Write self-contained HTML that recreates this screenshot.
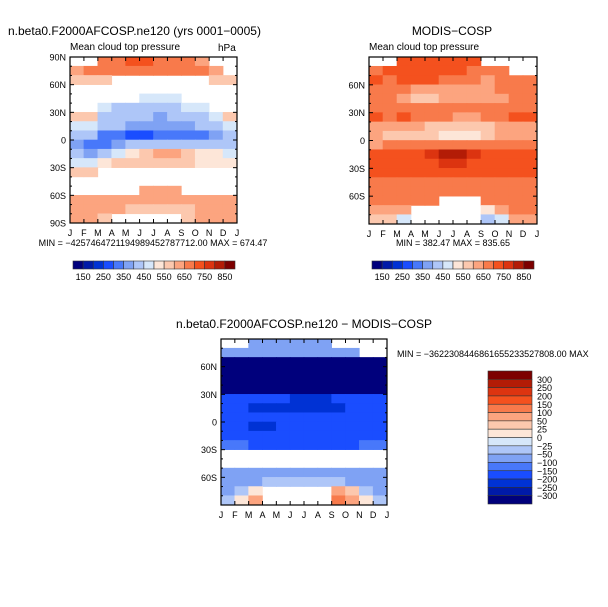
<!DOCTYPE html>
<html><head><meta charset="utf-8">
<style>
html,body{margin:0;padding:0;background:#fff;}
svg{display:block;font-family:"Liberation Sans","DejaVu Sans",sans-serif;}
</style></head>
<body>
<svg id="s" width="608" height="607" viewBox="0 0 608 607">
<rect width="608" height="607" fill="#fff"/>
</svg>
<script>
const months = ['J','F','M','A','M','J','J','A','S','O','N','D','J'];
const latLabelsFull = ['90N','60N','30N','0','30S','60S','90S'];
const latLabelsInner = ['','60N','30N','0','30S','60S',''];
const absLevels = [150,200,250,300,350,400,450,500,550,600,650,700,750,800,850];
const absLabels = ['150','250','350','450','550','650','750','850'];
const diffLevels = [-300,-250,-200,-150,-100,-50,-25,0,25,50,100,150,200,250,300];
const diffLabels = ['300','250','200','150','100','50','25','0','\u221225','\u221250','\u2212100','\u2212150','\u2212200','\u2212250','\u2212300'];
const colors = ['#00007c','#001aa8','#0032d4','#1a4dff','#4878fa','#7fa2f4','#aec6f8','#d6e7fa','#fde6d8','#fcc8ae','#fca47f','#f87a4b','#f4511e','#dc3410','#b31c06','#7d0000'];
const n = null;
const modelVals = [
[n,n,650,650,700,700,650,650,650,600,n,n],
[600,650,650,650,650,650,650,650,650,650,600,n],
[580,580,580,n,n,n,n,n,n,n,580,580],
[n,n,n,n,n,n,n,n,n,n,n,n],
[n,n,n,n,n,480,480,480,n,n,n,n],
[n,n,480,430,430,430,430,430,480,480,n,n],
[580,580,430,430,430,400,380,400,430,430,480,580],
[480,480,430,400,380,380,380,380,380,400,430,480],
[430,400,330,300,280,280,300,300,300,330,380,430],
[380,330,330,380,430,430,430,430,430,430,430,430],
[430,380,430,480,530,580,600,620,580,530,530,480],
[480,480,530,580,580,580,580,580,580,530,530,530],
[580,580,n,n,n,n,n,n,n,n,n,n],
[n,n,n,n,n,n,n,n,n,n,n,n],
[n,n,n,n,n,620,620,620,n,n,n,n],
[630,630,630,620,620,620,620,620,620,630,630,630],
[600,600,620,630,580,580,580,580,580,620,620,620],
[600,600,560,n,n,n,n,n,560,600,600,600]];
const obsVals = [
[n,n,700,700,700,700,700,700,n,n,n,n],
[650,700,700,700,700,700,700,650,650,650,n,n],
[700,650,700,720,720,680,650,650,620,650,650,650],
[650,650,650,620,620,620,600,600,620,650,650,650],
[650,650,600,570,570,600,600,600,600,620,650,650],
[650,650,650,650,650,650,650,650,650,650,650,650],
[700,680,700,650,650,650,620,620,650,680,700,700],
[620,620,620,600,580,580,580,580,580,620,620,620],
[600,580,580,570,550,540,540,540,560,600,600,600],
[620,650,650,650,650,650,650,650,650,650,650,650],
[700,700,700,720,760,800,800,780,720,700,700,700],
[720,720,720,720,740,760,760,740,720,720,720,720],
[720,720,720,720,720,720,720,720,720,720,720,720],
[680,680,680,680,680,680,680,680,680,680,680,680],
[680,680,680,680,680,680,680,680,680,680,680,680],
[650,650,650,650,650,n,n,n,650,650,650,650],
[620,600,600,n,n,n,n,n,500,600,650,650],
[580,550,450,n,n,n,n,n,420,450,600,600]];
const diffVals = [
[n,n,-60,-60,-80,-80,-80,-60,n,n,n,n],
[-80,-80,-80,-80,-80,-80,-80,-80,-80,-80,n,n],
[-350,-350,-350,-350,-350,-350,-350,-350,-350,-350,-350,-350],
[-350,-350,-350,-350,-350,-350,-350,-350,-350,-350,-350,-350],
[-350,-350,-350,-350,-350,-350,-350,-350,-350,-350,-350,-350],
[-350,-350,-350,-350,-350,-350,-350,-350,-350,-350,-350,-350],
[-170,-170,-170,-170,-170,-220,-220,-220,-170,-170,-170,-170],
[-170,-170,-220,-220,-220,-220,-220,-220,-220,-170,-170,-170],
[-170,-170,-170,-170,-170,-170,-170,-170,-170,-170,-170,-170],
[-170,-170,-220,-220,-170,-170,-170,-170,-170,-170,-170,-170],
[-170,-170,-170,-170,-170,-170,-170,-170,-170,-170,-170,-170],
[-120,-120,-170,-170,-170,-170,-170,-170,-170,-170,-120,-120],
[n,n,n,n,n,n,n,n,n,n,n,n],
[n,n,n,n,n,n,n,n,n,n,n,n],
[-70,-70,-70,-70,-70,-70,-70,-70,-70,-70,-70,-70],
[-70,-70,-70,-30,-30,-30,-30,-30,-30,-70,-70,-70],
[-70,-30,10,n,n,n,n,n,60,30,-30,-70],
[-30,10,60,n,n,n,n,n,120,60,10,-30]];

const S = document.getElementById('s');
const NS = 'http://www.w3.org/2000/svg';
function mk(tag, attrs, parent){const e=document.createElementNS(NS,tag);for(const k in attrs)e.setAttribute(k,attrs[k]);(parent||S).appendChild(e);return e;}
function txt(str,x,y,size,anchor,parent){const t=mk('text',{x:x,y:y,'font-size':size,'text-anchor':anchor||'start',fill:'#000'},parent);t.textContent=str;return t;}
function colorFor(v,levels){let i=0;while(i<levels.length&&v>=levels[i])i++;return colors[i];}

function panel(name,x0,y0,w,h,vals,levels,latLabels){
  const g=mk('g',{});
  
  
  const xs=t=>x0+t*w/12;
  const ys=lat=>y0+(90-lat)*h/180;
  vals.forEach((row,r)=>{
    row.forEach((v,c)=>{
      if(v===null)return;
      const rc=mk('rect',{x:xs(c)-0.3,y:ys(90-r*10)-0.3,width:w/12+0.6,height:h/18+0.6,fill:colorFor(v,levels)},g);
      
      
    });
  });
  const fr=mk('rect',{x:x0,y:y0,width:w,height:h,fill:'none',stroke:'#000','stroke-width':1.2},g);
  
  
  for(let m=0;m<=12;m++){
    const x=xs(m);
    mk('line',{x1:x,y1:y0+h,x2:x,y2:y0+h-4,stroke:'#000'},g);
    mk('line',{x1:x,y1:y0,x2:x,y2:y0+4,stroke:'#000'},g);
    const t=txt(months[m],x,y0+h+13,9,'middle',g);
    
    
  }
  for(let lat=90;lat>=-90;lat-=10){
    const y=ys(lat);const major=lat%30===0;const L=major?4:2;
    mk('line',{x1:x0,y1:y,x2:x0+L,y2:y,stroke:'#000'},g);
    mk('line',{x1:x0+w,y1:y,x2:x0+w-L,y2:y,stroke:'#000'},g);
    if(major){const lb=latLabels[(90-lat)/30];if(lb){const t=txt(lb,x0-4,y+3.5,9,'end',g);
      
      }}
  }
}
function hbar(name,x0,y0,w,h,labels){
  const g=mk('g',{});
  
  
  const bw=w/16;
  colors.forEach((c,i)=>{const r=mk('rect',{x:x0+i*bw,y:y0,width:bw,height:h,fill:c,stroke:'#333','stroke-width':0.6},g);
    
    });
  labels.forEach((l,i)=>{const t=txt(l,x0+bw*(1+2*i),y0+h+11,9,'middle',g);
    
    });
}

let t;
t=txt('n.beta0.F2000AFCOSP.ne120 (yrs 0001\u22120005)',8,35,12);

t=txt('Mean cloud top pressure',70,50,10);

t=txt('hPa',218,51,10);

panel('model-panel',70,57,167,166,modelVals,absLevels,latLabelsFull);
t=txt('MIN = \u22124257464721194989452787712.00 MAX = 674.47',153,246,9,'middle');

hbar('model-colorbar',73,261,162,8,absLabels);

t=txt('MODIS\u2212COSP',452,35,12,'middle');

t=txt('Mean cloud top pressure',369,50,10);

panel('obs-panel',369,57,168,167,obsVals,absLevels,latLabelsInner);
t=txt('MIN = 382.47 MAX = 835.65',453,246,9,'middle');

hbar('obs-colorbar',372,261,162,8,absLabels);

t=txt('n.beta0.F2000AFCOSP.ne120 \u2212 MODIS\u2212COSP',304,328,12,'middle');

panel('diff-panel',221,339,166,166,diffVals,diffLevels,latLabelsInner);
t=txt('MIN = \u22123622308446861655233527808.00 MAX',397,357,9);


const vb=mk('g',{});


const bx=488,by=371,bW=44,bH=133,bh=bH/16;
for(let i=0;i<16;i++){const r=mk('rect',{x:bx,y:by+i*bh,width:bW,height:bh,fill:colors[15-i],stroke:'#333','stroke-width':0.6},vb);
  
  }
diffLabels.forEach((l,i)=>{const t=txt(l,537,by+(i+1)*bh+3.5,9,'start',vb);
  
  });
</script>
</body></html>
